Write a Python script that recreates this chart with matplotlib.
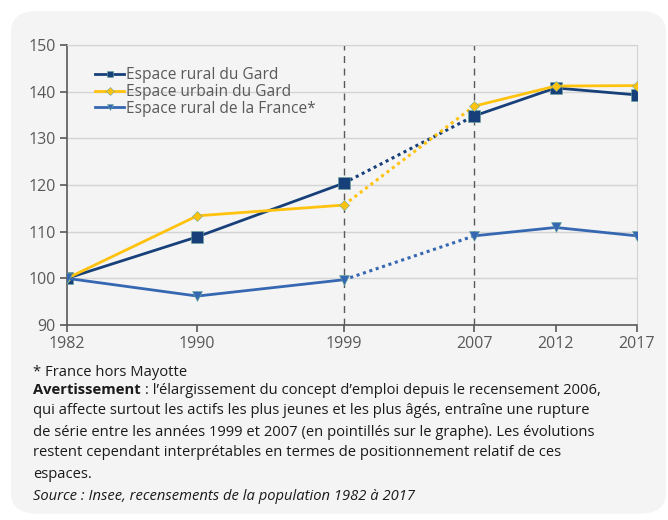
import matplotlib
matplotlib.use("Agg")
import matplotlib.pyplot as plt
from matplotlib.patches import FancyBboxPatch
from matplotlib.lines import Line2D

plt.rcParams["font.family"] = ["Open Sans", "DejaVu Sans"]

annees = [1982, 1990, 1999, 2007, 2012, 2017]
rural_gard = [100, 108.9, 120.4, 134.8, 140.8, 139.3]
urbain_gard = [100, 113.4, 115.7, 136.9, 141.2, 141.3]
rural_france = [100, 96.2, 99.7, 109.1, 110.9, 109.1]

series = [
    ("Espace rural du Gard", rural_gard, "#17407a", "s", 8),
    ("Espace urbain du Gard", urbain_gard, "#ffc20e", "D", 5),
    ("Espace rural de la France*", rural_france, "#3567b2", "v", 7),
]
gris = "#595959"
# rupture de serie entre 1999 et 2007
i_rupture = annees.index(1999)

fig = plt.figure(figsize=(6.68, 5.20), dpi=100)
fond = FancyBboxPatch((11 / 668, 0.012), 655 / 668, 1 - 11 / 520 - 0.012,
                      boxstyle="round,pad=0,rounding_size=0.04",
                      transform=fig.transFigure, facecolor="#f4f4f4",
                      edgecolor="none", zorder=-10)
fig.patches.append(fond)

ax = fig.add_axes([67 / 668, 1 - 325 / 520, (637 - 67) / 668, 280 / 520])
ax.set_facecolor("none")
ax.set_zorder(1)

handles = []
for nom, vals, coul, mk, ms in series:
    kw = dict(color=coul, lw=2.0, marker=mk, ms=ms, mec="#6aa89c", mew=0.4,
              mfc=coul, zorder=4)
    ax.plot(annees[:i_rupture + 1], vals[:i_rupture + 1], **kw)
    ax.plot(annees[i_rupture + 1:], vals[i_rupture + 1:], **kw)
    ax.plot(annees[i_rupture:i_rupture + 2], vals[i_rupture:i_rupture + 2],
            color=coul, lw=2.2, ls=(0, (1, 1.2)), zorder=3)
    kw["ms"] = 4.5
    handles.append(Line2D([], [], label=nom, **kw))

for x in (1999, 2007):
    ax.axvline(x, color=gris, lw=1, ls=(0, (5, 4)), zorder=2)

ax.set_xlim(1982, 2017)
ax.set_ylim(90, 150)
ax.set_xticks(annees)
ax.set_yticks(range(90, 151, 10))
ax.grid(axis="y", color="#d4d4d4", lw=1, zorder=1)
for s in ("top", "right"):
    ax.spines[s].set_color("#d4d4d4")
for s in ("left", "bottom"):
    ax.spines[s].set_color(gris)
    ax.spines[s].set_linewidth(1.2)
ax.tick_params(colors=gris, labelsize=11.5, length=5, width=1.2, pad=3)

ax.legend(handles=handles, loc="upper left", bbox_to_anchor=(0.035, 0.948),
          frameon=False, fontsize=11.2, labelcolor=gris, handlelength=1.9,
          handletextpad=0.1, labelspacing=0.05, borderpad=0)

x0 = 33 / 668
lignes = [
    (372, [("* France hors Mayotte", "normal", "normal")]),
    (390, [("Avertissement", "bold", "normal"),
           (" : l\u2019\u00e9largissement du concept d\u2019emploi depuis le recensement 2006,",
            "normal", "normal")]),
    (411, [("qui affecte surtout les actifs les plus jeunes et les plus \u00e2g\u00e9s, entra\u00eene une rupture",
            "normal", "normal")]),
    (432, [("de s\u00e9rie entre les ann\u00e9es 1999 et 2007 (en pointill\u00e9s sur le graphe). Les \u00e9volutions",
            "normal", "normal")]),
    (453, [("restent cependant interpr\u00e9tables en termes de positionnement relatif de ces",
            "normal", "normal")]),
    (474, [("espaces.", "normal", "normal")]),
    (496, [("Source : Insee, recensements de la population 1982 \u00e0 2017",
            "normal", "italic")]),
]
fig.canvas.draw()
for y, morceaux in lignes:
    x = x0
    for txt, poids, style in morceaux:
        t = fig.text(x, 1 - y / 520, txt, fontsize=10.6, color="#1a1a1a",
                     weight=poids, style=style, va="center", ha="left")
        bb = t.get_window_extent(fig.canvas.get_renderer())
        x = bb.x1 / fig.bbox.width

fig.savefig("out.png", dpi=100)
